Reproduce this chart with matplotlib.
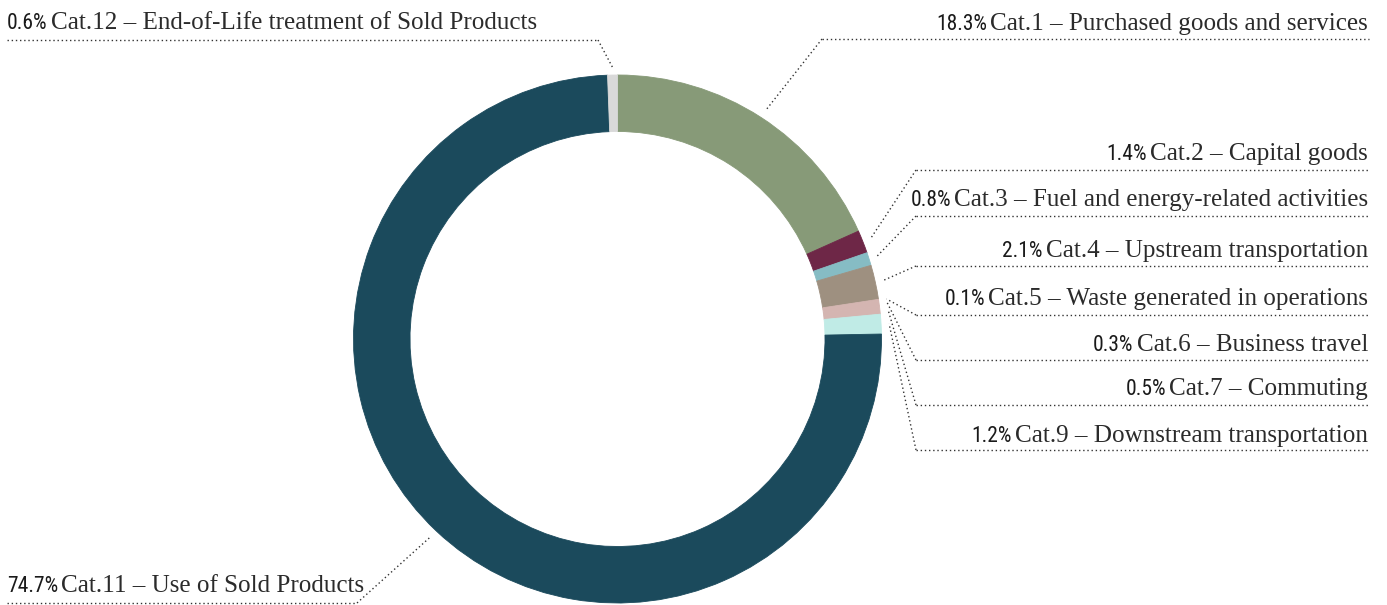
import numpy as np
import matplotlib.pyplot as plt
from matplotlib import font_manager

# scope 3 breakdown (share of total, %)
pct_labels = ["18.3%", "1.4%", "0.8%", "2.1%", "0.1%", "0.3%", "0.5%", "1.2%", "74.7%", "0.6%"]
shares = [18.3, 1.4, 0.8, 2.1, 0.1, 0.3, 0.5, 1.2, 74.7, 0.6]
categories = [
    "Cat.1 – Purchased goods and services",
    "Cat.2 – Capital goods",
    "Cat.3 – Fuel and energy-related activities",
    "Cat.4 – Upstream transportation",
    "Cat.5 – Waste generated in operations",
    "Cat.6 – Business travel",
    "Cat.7 – Commuting",
    "Cat.9 – Downstream transportation",
    "Cat.11 – Use of Sold Products",
    "Cat.12 – End-of-Life treatment of Sold Products",
]
colors = ["#879a78", "#6e2747", "#86bcc4", "#9e9080", "#d4b5b1",
          "#d4b5b1", "#d4b5b1", "#c0ebe6", "#1b4a5c", "#d9d9d9"]

# label layout in pixels: side, text baseline, underline y, underline inner x
label_side = ["R", "R", "R", "R", "R", "R", "R", "R", "L", "L"]
label_base = [30, 160, 206, 257, 305, 351, 395, 442, 592, 29]
label_line = [39, 170, 216, 266, 315, 360, 405, 450, 603, 40]
label_x0 = [822, 916, 916, 916, 916, 916, 916, 916, 357, 598]

W, H = 1387, 605
cx, cy, R = 617.5, 339, 264
SERIF = "Liberation Serif"
names = {f.name for f in font_manager.fontManager.ttflist}
SANS = "Roboto Condensed" if "Roboto Condensed" in names else "Roboto"
FS = 18.1
FS_PCT = 15.5 if SANS == "Roboto Condensed" else 14.0
DOT = dict(color="#333333", lw=1.0, ls=(0, (1, 2)))


def Y(y):
    return H - y


fig = plt.figure(figsize=(W / 100, H / 100), dpi=100)
ax = fig.add_axes([0, 0, 1, 1])

wedges, _ = ax.pie(shares, colors=colors, startangle=90, counterclock=False,
                   center=(cx, Y(cy)), radius=R,
                   wedgeprops=dict(width=R * 0.214, linewidth=0.6))
for w in wedges:
    w.set_edgecolor(w.get_facecolor())
ax.set_xlim(0, W)
ax.set_ylim(0, H)
ax.set_aspect("equal")
ax.axis("off")

fig.canvas.draw()
renderer = fig.canvas.get_renderer()

pct_style = dict(family=SANS, fontsize=FS_PCT, color="#1a1a1a")
cat_style = dict(family=SERIF, fontsize=FS, color="#2b2b2b")

for i, w in enumerate(wedges):
    mid = np.deg2rad((w.theta1 + w.theta2) / 2)
    px = cx + (R + 8) * np.cos(mid)
    py = Y(cy) + (R + 8) * np.sin(mid)
    uy = Y(label_line[i])
    x0 = label_x0[i]
    ax.plot([x0, px], [uy, py], **DOT)
    if label_side[i] == "R":
        ax.plot([x0, 1369], [uy, uy], **DOT)
        t = ax.text(1368, Y(label_base[i]), categories[i], ha="right", va="baseline",
                    **cat_style)
        bb = t.get_window_extent(renderer)
        ax.text(bb.x0 - 3, Y(label_base[i]), pct_labels[i], ha="right", va="baseline",
                **pct_style)
    else:
        ax.plot([7, x0], [uy, uy], **DOT)
        t = ax.text(7, Y(label_base[i]), pct_labels[i], ha="left", va="baseline",
                    **pct_style)
        bb = t.get_window_extent(renderer)
        ax.text(bb.x1 + 3, Y(label_base[i]), categories[i], ha="left", va="baseline",
                **cat_style)

fig.savefig("out.png", dpi=100)
